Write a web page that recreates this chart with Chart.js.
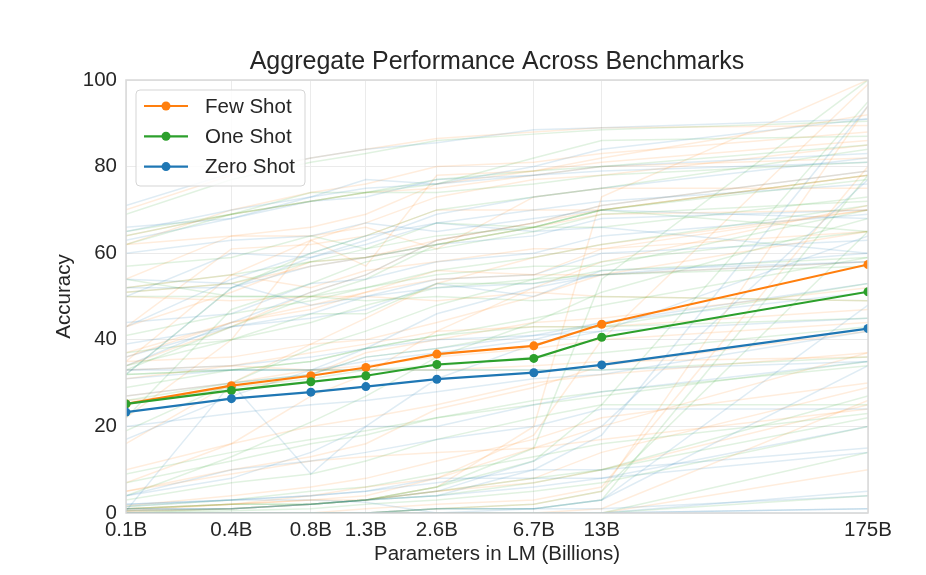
<!DOCTYPE html>
<html lang="en">
<head>
    <meta charset="UTF-8">
    <title>Aggregate Performance Across Benchmarks</title>
    <script src="https://cdn.jsdelivr.net/npm/chart.js"></script>
    <style>
        html, body { margin: 0; padding: 0; background: #fff; }
    </style>
</head>
<body>
    <canvas id="perfChart" width="926" height="575"></canvas>

    <script>
        // model sizes (billions) and the labels shown on the x axis
        const modelSizes = [0.125, 0.35, 0.76, 1.3, 2.6, 6.7, 13, 175];
        const sizeLabels = ['0.1B', '0.4B', '0.8B', '1.3B', '2.6B', '6.7B', '13B', '175B'];

        // aggregate (mean) accuracy per setting
        const fewShotMean  = [25.2, 29.4, 31.7, 33.6, 36.7, 38.6, 43.6, 57.4];
        const oneShotMean  = [25.2, 28.3, 30.3, 31.7, 34.3, 35.7, 40.6, 51.1];
        const zeroShotMean = [23.3, 26.4, 27.9, 29.2, 30.9, 32.4, 34.2, 42.6];

        // individual benchmark curves (faint background lines)
        const fewShotRuns = [
            [70, 78, 82, 84, 86.5, 88, 89, 89.5],
            [62, 70, 74, 76, 80, 81, 83, 88],
            [64, 69, 72, 74, 75, 78, 80, 82],
            [62, 64, 66, 69, 76, 79, 82, 92],
            [34, 43, 51, 55, 63, 67, 71, 79],
            [22, 40, 63, 57, 78, 79, 81, 86],
            [51, 53, 57, 59, 63, 67, 70, 78],
            [43, 51, 58, 59, 62, 66, 69, 70],
            [26, 28, 32, 37, 40, 44, 45, 52],
            [37, 44, 48, 51, 56, 55, 61, 65],
            [7, 16, 27, 32, 42, 52, 58, 71],
            [1.7, 4, 6, 8, 12, 17, 22, 30],
            [5, 10, 13, 16, 24, 29, 34, 42],
            [43, 61, 62, 64, 70, 70, 70, 78],
            [52, 55, 52, 56, 58, 61, 61, 70],
            [50, 49, 50, 50, 49, 51, 50, 49],
            [0.5, 1, 2, 3, 6, 20, 73, 100],
            [1, 2, 3, 4, 8, 18, 40, 99],
            [0, 0, 0, 1, 2, 3, 6, 80],
            [0, 0, 0, 0, 1, 2, 5, 94],
            [0, 0, 0, 0, 0, 0, 1, 26],
            [0, 0, 0, 0, 0, 0, 0, 10],
            [1, 2, 3, 3, 5, 8, 14, 29],
            [35, 36, 39, 40, 44, 50, 55, 65],
            [0.5, 2, 4, 6, 8, 15, 20, 37],
            [0.3, 1, 2, 3, 5, 7, 10, 25],
            [35, 55, 63, 67, 73, 77, 78, 85],
            [10, 16, 20, 22, 25, 30, 32, 37],
            [16, 30, 39, 45, 53, 59, 62, 70],
            [27, 30, 33, 34, 36, 38, 40, 44],
            [31, 34, 37, 39, 42, 43, 43, 47],
            [36, 44, 47, 51, 54, 55, 55, 58],
            [54, 64, 64, 66, 61, 73, 75, 75],
            [33, 34, 33, 33, 33, 34, 35, 36],
            [5, 9, 12, 13, 14, 15, 17, 24]
        ];
        const oneShotRuns = [
            [69, 77, 81, 83, 86, 87.5, 88.5, 90.5],
            [62, 69, 72, 74, 77, 79, 80, 85],
            [64, 69, 72, 74, 74, 76, 78, 81],
            [65, 69, 74, 74, 76, 82, 86, 87],
            [33, 43, 50, 54, 62, 66, 70, 78],
            [22, 47, 53, 58, 61, 65, 69, 72],
            [51, 53, 58, 59, 62, 66, 66, 73],
            [41, 46, 49, 52, 56, 59, 62, 71],
            [26, 30, 32, 36, 38, 42, 43, 53],
            [37, 40, 46, 46, 53, 53, 56, 59],
            [4, 13, 21, 27, 36, 44, 51, 68],
            [1.5, 3, 5, 6, 9, 13, 16, 23],
            [3, 7, 9, 12, 17, 22, 25, 25],
            [52, 55, 58, 61, 64, 66, 70, 77],
            [54, 50, 50, 52, 55, 57, 57, 70],
            [50, 50, 50, 49, 50, 49, 50, 49],
            [0.5, 1, 2, 3, 6, 15, 54, 100],
            [1, 2, 2, 3, 6, 12, 25, 95],
            [0, 0, 0, 0, 1, 2, 5, 65],
            [0, 0, 0, 0, 1, 1, 3, 78],
            [0, 0, 0, 0, 0, 0, 0, 14],
            [0, 0, 0, 0, 0, 0, 0, 4],
            [1, 2, 2, 3, 4, 7, 10, 27],
            [32, 33, 35, 38, 41, 45, 48, 59],
            [0, 1, 2, 3, 5, 8, 10, 22],
            [0, 0.5, 1, 2, 3, 5, 7, 20],
            [32, 52, 60, 64, 70, 73, 75, 84],
            [9, 14, 17, 19, 22, 26, 28, 34],
            [19, 30, 38, 42, 48, 54, 58, 65],
            [25, 29, 31, 33, 34, 36, 37, 43],
            [29, 33, 35, 38, 41, 43, 43, 45],
            [34, 40, 44, 48, 52, 54, 55, 57],
            [57, 59, 64, 61, 67, 66, 70, 65],
            [32, 33, 33, 33, 33, 33, 33, 36],
            [7, 12, 16, 18, 22, 25, 27, 35]
        ];
        const zeroShotRuns = [
            [71, 78.5, 82, 84, 85.5, 88.5, 89, 91],
            [63, 68, 72, 73, 77, 78, 80, 83],
            [65, 70, 73, 75, 76, 78, 79, 81],
            [66, 68, 73, 77, 76, 80, 84, 91],
            [34, 44, 51, 55, 63, 67, 71, 79],
            [43, 54, 60, 64, 67, 70, 72, 76],
            [52, 52, 57, 59, 62, 64, 68, 70],
            [44, 46, 53, 54, 58, 60, 64, 69],
            [27, 30, 32, 36, 38, 41, 44, 51],
            [36, 43, 45, 47, 53, 50, 56, 58],
            [4, 8, 14, 20, 31, 39, 42, 64],
            [1.5, 3, 4, 5, 7, 10, 10, 15],
            [2, 3, 4, 5, 8, 8, 8, 14],
            [50, 60, 59, 62, 67, 65, 66, 60],
            [54, 53, 48, 50, 54, 55, 60, 63],
            [0, 0, 0, 0, 0, 0, 0, 0],
            [0.5, 1, 2, 3, 5, 12, 20, 77],
            [1, 1, 2, 3, 4, 10, 18, 94],
            [0, 0, 0, 0, 1, 1, 3, 34],
            [0, 0, 0, 0, 1, 1, 3, 48],
            [0, 0, 0, 0, 0, 0, 0, 5],
            [0, 0, 0, 0, 0, 0, 0, 1],
            [1, 1, 2, 3, 4, 6, 8, 20],
            [31, 33, 33, 35, 37, 40, 44, 53],
            [0, 0, 0, 0, 0, 1, 1, 4],
            [0.5, 30, 9, 20, 20, 25, 28, 35],
            [32, 52, 59, 63, 69, 73, 75, 82],
            [4, 10, 12, 14, 17, 20, 24, 24],
            [17, 27, 33, 38, 46, 52, 55, 60],
            [20, 23, 25, 26, 28, 31, 32, 42],
            [33, 34, 36, 38, 40, 41, 42, 45],
            [39, 43, 46, 50, 52, 53, 55, 58],
            [60, 63, 64, 67, 65, 68, 70, 68],
            [33, 33, 33, 33, 33, 33, 33, 35],
            [2, 3, 3, 2.5, 0, 0, 0, 1]
        ];

        const ORANGE = '#ff7f0e';
        const GREEN = '#2ca02c';
        const BLUE = '#1f77b4';
        const FONT = "'Liberation Sans', Arial, sans-serif";
        const TEXT_COLOR = '#262626';

        function toPoints(values) {
            return values.map((v, i) => ({ x: modelSizes[i], y: v }));
        }

        function mainLine(label, values, color) {
            return {
                label: label,
                data: toPoints(values),
                borderColor: color,
                backgroundColor: color,
                borderWidth: 2.2,
                pointRadius: 4.5,
                pointBorderWidth: 0,
                pointBackgroundColor: color,
                clip: 0
            };
        }

        function faintLine(values, rgb) {
            return {
                label: '',
                data: toPoints(values),
                borderColor: 'rgba(' + rgb + ',0.14)',
                borderWidth: 1.5,
                pointRadius: 0,
                clip: 0
            };
        }

        // first dataset is painted on top in Chart.js
        const datasets = [
            mainLine('Zero Shot', zeroShotMean, BLUE),
            mainLine('One Shot', oneShotMean, GREEN),
            mainLine('Few Shot', fewShotMean, ORANGE)
        ];
        zeroShotRuns.forEach(r => datasets.push(faintLine(r, '31,119,180')));
        oneShotRuns.forEach(r => datasets.push(faintLine(r, '44,160,44')));
        fewShotRuns.forEach(r => datasets.push(faintLine(r, '255,127,14')));

        // title, frame and in-plot legend
        const decorPlugin = {
            id: 'decor',
            afterDraw(chart) {
                const ctx = chart.ctx;
                const a = chart.chartArea;
                ctx.save();

                // frame around the plot area
                ctx.strokeStyle = '#d9d9d9';
                ctx.lineWidth = 1.5;
                ctx.strokeRect(a.left, a.top, a.right - a.left, a.bottom - a.top);

                // title
                ctx.fillStyle = TEXT_COLOR;
                ctx.font = '25px ' + FONT;
                ctx.textAlign = 'center';
                ctx.textBaseline = 'middle';
                ctx.fillText('Aggregate Performance Across Benchmarks', (a.left + a.right) / 2, 62);

                // legend box
                const entries = [datasets[2], datasets[1], datasets[0]];
                const bx = a.left + 10, by = a.top + 10, bw = 169, bh = 96;
                ctx.beginPath();
                ctx.roundRect(bx, by, bw, bh, 4);
                ctx.fillStyle = 'rgba(255,255,255,0.85)';
                ctx.fill();
                ctx.strokeStyle = '#d5d5d5';
                ctx.lineWidth = 1;
                ctx.stroke();

                ctx.font = '20.5px ' + FONT;
                ctx.textAlign = 'left';
                entries.forEach((ds, i) => {
                    const y = by + 16 + i * 30.3;
                    ctx.strokeStyle = ds.borderColor;
                    ctx.lineWidth = 2.2;
                    ctx.beginPath();
                    ctx.moveTo(bx + 8, y);
                    ctx.lineTo(bx + 52, y);
                    ctx.stroke();
                    ctx.fillStyle = ds.borderColor;
                    ctx.beginPath();
                    ctx.arc(bx + 30, y, 4.5, 0, Math.PI * 2);
                    ctx.fill();
                    ctx.fillStyle = TEXT_COLOR;
                    ctx.fillText(ds.label, bx + 69, y + 1);
                });
                ctx.restore();
            }
        };

        const ctx = document.getElementById('perfChart').getContext('2d');
        const perfChart = new Chart(ctx, {
            type: 'line',
            data: { datasets: datasets },
            plugins: [decorPlugin],
            options: {
                responsive: false,
                animation: false,
                events: [],
                layout: { padding: { left: 0, right: 58, top: 80, bottom: 0 } },
                plugins: {
                    legend: { display: false },
                    tooltip: { enabled: false },
                    title: { display: false }
                },
                scales: {
                    x: {
                        type: 'logarithmic',
                        min: modelSizes[0],
                        max: modelSizes[modelSizes.length - 1],
                        afterBuildTicks: scale => {
                            scale.ticks = modelSizes.map(v => ({ value: v }));
                        },
                        afterFit: scale => { scale.height = 62; },
                        ticks: {
                            autoSkip: false,
                            maxRotation: 0,
                            padding: 5,
                            color: TEXT_COLOR,
                            font: { family: FONT, size: 20.5 },
                            callback: (value, index) => sizeLabels[index]
                        },
                        grid: { color: '#ebebeb', lineWidth: 1, drawTicks: false },
                        border: { display: false },
                        title: {
                            display: true,
                            text: 'Parameters in LM (Billions)',
                            color: TEXT_COLOR,
                            font: { family: FONT, size: 20.5 },
                            padding: { top: 0, bottom: 8 }
                        }
                    },
                    y: {
                        min: 0,
                        max: 100,
                        afterFit: scale => { scale.width = 126; },
                        ticks: {
                            stepSize: 20,
                            padding: 9,
                            color: TEXT_COLOR,
                            font: { family: FONT, size: 20.5 }
                        },
                        grid: { color: '#ebebeb', lineWidth: 1, drawTicks: false },
                        border: { display: false },
                        title: {
                            display: true,
                            text: 'Accuracy',
                            color: TEXT_COLOR,
                            font: { family: FONT, size: 20.5 },
                            padding: { top: 52, bottom: 0 }
                        }
                    }
                }
            }
        });
    </script>
</body>
</html>
